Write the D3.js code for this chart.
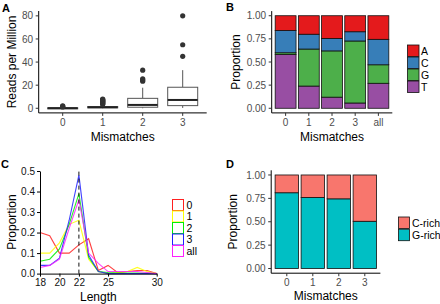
<!DOCTYPE html>
<html>
<head>
<meta charset="utf-8">
<script src="https://cdn.jsdelivr.net/npm/d3@7"></script>
<style>
  body { margin: 0; background: #fff; }
  svg { display: block; font-family: "Liberation Sans", Arial, sans-serif; }
</style>
</head>
<body>
<svg id="fig" width="440" height="304"></svg>
<script>
// ---- data ----
// A: boxplot summaries per mismatch count
var mismatches = ['0', '1', '2', '3'];
var boxLo  = [0, 0, 0, 0.3];
var boxQ1  = [0, 0.4, 0.9, 2.3];
var boxMed = [0.1, 0.9, 2.9, 7.2];
var boxQ3  = [0.4, 1.5, 8.6, 18.2];
var boxHi  = [0.9, 3.0, 17.8, 33];
var boxOut = [
  [1.2, 1.6, 2.0],
  [3.5, 4, 4.5, 5, 5.5, 6, 6.5, 7, 7.5, 8],
  [23.5, 24.5, 25.5, 33],
  [45, 55, 80]
];
var yTicksA = [0, 20, 40, 60, 80];

// B: base composition
var groupsB = ['0', '1', '2', '3', 'all'];
var bases = ['A', 'C', 'G', 'T'];
var propA = [0.16, 0.20, 0.245, 0.173, 0.255];
var propC = [0.24, 0.16, 0.135, 0.10, 0.275];
var propG = [0.02, 0.40, 0.50, 0.67, 0.20];
var propT = [0.58, 0.24, 0.12, 0.057, 0.27];
var baseColors = ['#E41A1C', '#377EB8', '#4DAF4A', '#984EA3'];
var propTicks = [0, 0.25, 0.5, 0.75, 1];

// C: length distributions
var lengths = [18, 19, 20, 21, 22, 23, 24, 25, 26, 27, 28, 29, 30];
var len0   = [0.20, 0.185, 0.10, 0.10, 0.14, 0.17, 0.015, 0.04, 0.005, 0.01, 0.015, 0.015, 0];
var len1   = [0.10, 0.10, 0.15, 0.24, 0.26, 0.07, 0.01, 0.0, 0.005, 0.01, 0.03, 0.01, 0];
var len2   = [0.06, 0.07, 0.12, 0.24, 0.39, 0.08, 0.01, 0.005, 0.003, 0.003, 0.003, 0.002, 0];
var len3   = [0.04, 0.04, 0.075, 0.26, 0.48, 0.09, 0.01, 0.0, 0.0, 0.0, 0.0, 0.0, 0];
var lenAll = [0.03, 0.04, 0.07, 0.22, 0.36, 0.10, 0.05, 0.01, 0.01, 0.01, 0.01, 0.005, 0];
var lenNames = ['0', '1', '2', '3', 'all'];
var lenColors = ['#ff2020', '#ffff00', '#00ee00', '#2020ff', '#ff20ff'];
var xTicksC = [18, 20, 22, 25, 30];
var yTicksC = [0, 0.1, 0.2, 0.3, 0.4, 0.5];

// D: strand richness
var groupsD = ['0', '1', '2', '3'];
var gRich = [0.81, 0.76, 0.745, 0.505];
var cRich = gRich.map(function (v) { return 1 - v; });
var richNames = ['C-rich', 'G-rich'];
var richColors = ['#F8766D', '#00BFC4'];

var svg = d3.select('#fig');
var tickCol = '#4d4d4d';
var tickSize = 10, titleSize = 12;

function fmt2(d) { return d3.format('.2f')(d); }

// ggplot-ish axes
function ggAxes(g, x, y, yTicks, yFmt, left, right, top, bottom) {
  g.append('line').attr('x1', left).attr('x2', left).attr('y1', top).attr('y2', bottom)
    .attr('stroke', '#000').attr('stroke-width', 1);
  g.append('line').attr('x1', left).attr('x2', right).attr('y1', bottom).attr('y2', bottom)
    .attr('stroke', '#000').attr('stroke-width', 1);
  yTicks.forEach(function (t) {
    g.append('line').attr('x1', left - 3).attr('x2', left).attr('y1', y(t)).attr('y2', y(t))
      .attr('stroke', '#333');
    g.append('text').attr('x', left - 5.5).attr('y', y(t) + 3.6).attr('text-anchor', 'end')
      .attr('font-size', tickSize).attr('fill', tickCol).text(yFmt(t));
  });
  x.domain().forEach(function (c) {
    g.append('line').attr('x1', x(c)).attr('x2', x(c)).attr('y1', bottom).attr('y2', bottom + 3)
      .attr('stroke', '#333');
    g.append('text').attr('x', x(c)).attr('y', bottom + 12.8).attr('text-anchor', 'middle')
      .attr('font-size', tickSize).attr('fill', tickCol).text(c);
  });
}

function tag(letter, x, y) {
  svg.append('text').attr('x', x).attr('y', y).attr('font-size', 11).attr('font-weight', 'bold')
    .text(letter);
}

function yTitle(label, x, cy) {
  svg.append('text').attr('transform', 'translate(' + x + ',' + cy + ') rotate(-90)')
    .attr('text-anchor', 'middle').attr('font-size', titleSize).text(label);
}

// ---------- Panel A ----------
(function () {
  var left = 38.7, right = 206.7, top = 11, bottom = 112.9;
  var g = svg.append('g');
  var x = d3.scalePoint().domain(mismatches).range([left, right]).padding(0.6);
  var y = d3.scaleLinear().domain([-4, 84.2]).range([bottom, top]);
  var bw = x.step() * 0.75;
  ggAxes(g, x, y, yTicksA, String, left, right, top, bottom);
  mismatches.forEach(function (m, i) {
    var cx = x(m);
    g.append('line').attr('x1', cx).attr('x2', cx).attr('y1', y(boxHi[i])).attr('y2', y(boxQ3[i]))
      .attr('stroke', '#555');
    g.append('line').attr('x1', cx).attr('x2', cx).attr('y1', y(boxQ1[i])).attr('y2', y(boxLo[i]))
      .attr('stroke', '#555');
    g.append('rect').attr('x', cx - bw / 2).attr('width', bw)
      .attr('y', y(boxQ3[i])).attr('height', Math.max(1, y(boxQ1[i]) - y(boxQ3[i])))
      .attr('fill', '#fff').attr('stroke', '#555');
    g.append('line').attr('x1', cx - bw / 2).attr('x2', cx + bw / 2)
      .attr('y1', y(boxMed[i])).attr('y2', y(boxMed[i])).attr('stroke', '#222').attr('stroke-width', 2);
    g.selectAll(null).data(boxOut[i]).enter().append('circle')
      .attr('cx', cx).attr('cy', function (d) { return y(d); }).attr('r', 2.6).attr('fill', '#333');
  });
  svg.append('text').attr('x', (left + right) / 2).attr('y', 140.5).attr('text-anchor', 'middle')
    .attr('font-size', titleSize).text('Mismatches');
  yTitle('Reads per Million', 15.5, (top + bottom) / 2);
  tag('A', 2, 12);
})();

// ---------- Panel B ----------
(function () {
  var left = 271.7, right = 392.3, top = 11.1, bottom = 112.9;
  var g = svg.append('g');
  var x = d3.scalePoint().domain(groupsB).range([left, right]).padding(0.6);
  var y = d3.scaleLinear().domain([-0.05, 1.05]).range([bottom, top]);
  var bw = x.step() * 0.9;
  var rows = groupsB.map(function (grp, i) {
    return { grp: grp, A: propA[i], C: propC[i], G: propG[i], T: propT[i] };
  });
  var stack = d3.stack().keys(bases.slice().reverse())(rows);
  var color = d3.scaleOrdinal().domain(bases).range(baseColors);
  stack.forEach(function (layer) {
    g.selectAll(null).data(layer).enter().append('rect')
      .attr('x', function (d) { return x(d.data.grp) - bw / 2; })
      .attr('width', bw)
      .attr('y', function (d) { return y(d[1]); })
      .attr('height', function (d) { return y(d[0]) - y(d[1]); })
      .attr('fill', color(layer.key)).attr('stroke', '#111').attr('stroke-width', 0.8);
  });
  ggAxes(g, x, y, propTicks, fmt2, left, right, top, bottom);
  svg.append('text').attr('x', (left + right) / 2).attr('y', 140.5).attr('text-anchor', 'middle')
    .attr('font-size', titleSize).text('Mismatches');
  yTitle('Proportion', 240, (top + bottom) / 2);
  tag('B', 226, 11);
  // legend
  bases.forEach(function (b, i) {
    var ky = 45 + i * 12;
    svg.append('rect').attr('x', 407.5).attr('y', ky).attr('width', 11.5).attr('height', 11.5)
      .attr('fill', color(b)).attr('stroke', '#111').attr('stroke-width', 0.8);
    svg.append('text').attr('x', 421).attr('y', ky + 9.5).attr('font-size', 10.5).text(b);
  });
})();

// ---------- Panel C ----------
(function () {
  var left = 40, right = 156.7, top = 171, bottom = 273.6;
  var g = svg.append('g');
  var x = d3.scaleLinear().domain([18, 30]).range([left, right]);
  var y = d3.scaleLinear().domain([0, 0.5]).range([bottom, top]);
  var series = [len0, len1, len2, len3, lenAll];
  var line = d3.line().x(function (d, i) { return x(lengths[i]); }).y(function (d) { return y(d); });
  series.forEach(function (s, k) {
    g.append('path').attr('d', line(s)).attr('fill', 'none')
      .attr('stroke', lenColors[k]).attr('stroke-width', 1.1).attr('stroke-opacity', 0.85);
  });
  g.append('line').attr('x1', x(22)).attr('x2', x(22)).attr('y1', y(0)).attr('y2', y(0.5))
    .attr('stroke', '#111').attr('stroke-dasharray', '4,3');
  var xa = d3.axisBottom(x).tickValues(xTicksC).tickSize(3).tickSizeOuter(0);
  var ya = d3.axisLeft(y).tickValues(yTicksC).tickSize(3).tickSizeOuter(0).tickFormat(d3.format('.1f'));
  var gx = g.append('g').attr('transform', 'translate(0,' + bottom + ')').call(xa);
  var gy = g.append('g').attr('transform', 'translate(' + left + ',0)').call(ya);
  [gx, gy].forEach(function (a) {
    a.select('.domain').attr('stroke', '#000');
    a.selectAll('.tick line').attr('stroke', '#000');
    a.selectAll('text').attr('font-size', tickSize).attr('fill', '#111')
      .attr('font-family', '"Liberation Sans", Arial, sans-serif');
  });
  gy.selectAll('text').attr('x', -5);
  gx.selectAll('text').attr('y', 5.5);
  svg.append('text').attr('x', (left + right) / 2).attr('y', 301).attr('text-anchor', 'middle')
    .attr('font-size', titleSize).text('Length');
  yTitle('Proportion', 15.5, 222);
  tag('C', 1, 168);
  lenNames.forEach(function (n, i) {
    var ky = 199.5 + i * 11.5;
    svg.append('rect').attr('x', 172.5).attr('y', ky).attr('width', 11).attr('height', 11)
      .attr('fill', '#fff').attr('stroke', lenColors[i]).attr('stroke-width', 1);
    svg.append('text').attr('x', 186.5).attr('y', ky + 9).attr('font-size', 10.5).text(n);
  });
})();

// ---------- Panel D ----------
(function () {
  var left = 271.2, right = 380.4, top = 170.3, bottom = 273.2;
  var g = svg.append('g');
  var x = d3.scalePoint().domain(groupsD).range([left, right]).padding(0.6);
  var y = d3.scaleLinear().domain([-0.05, 1.05]).range([bottom, top]);
  var bw = x.step() * 0.9;
  var rows = groupsD.map(function (grp, i) {
    return { grp: grp, 'G-rich': gRich[i], 'C-rich': cRich[i] };
  });
  var stack = d3.stack().keys(['G-rich', 'C-rich'])(rows);
  var color = d3.scaleOrdinal().domain(richNames).range(richColors);
  stack.forEach(function (layer) {
    g.selectAll(null).data(layer).enter().append('rect')
      .attr('x', function (d) { return x(d.data.grp) - bw / 2; })
      .attr('width', bw)
      .attr('y', function (d) { return y(d[1]); })
      .attr('height', function (d) { return y(d[0]) - y(d[1]); })
      .attr('fill', color(layer.key)).attr('stroke', '#111').attr('stroke-width', 0.8);
  });
  ggAxes(g, x, y, propTicks, fmt2, left, right, top, bottom);
  svg.append('text').attr('x', (left + right) / 2).attr('y', 300).attr('text-anchor', 'middle')
    .attr('font-size', titleSize).text('Mismatches');
  yTitle('Proportion', 237, (top + bottom) / 2);
  tag('D', 226, 168);
  richNames.forEach(function (n, i) {
    var ky = 217 + i * 12.2;
    svg.append('rect').attr('x', 398.5).attr('y', ky).attr('width', 11).attr('height', 11.5)
      .attr('fill', color(n)).attr('stroke', '#111').attr('stroke-width', 0.8);
    svg.append('text').attr('x', 412).attr('y', ky + 9.5).attr('font-size', 10.5).text(n);
  });
})();
</script>
</body>
</html>
